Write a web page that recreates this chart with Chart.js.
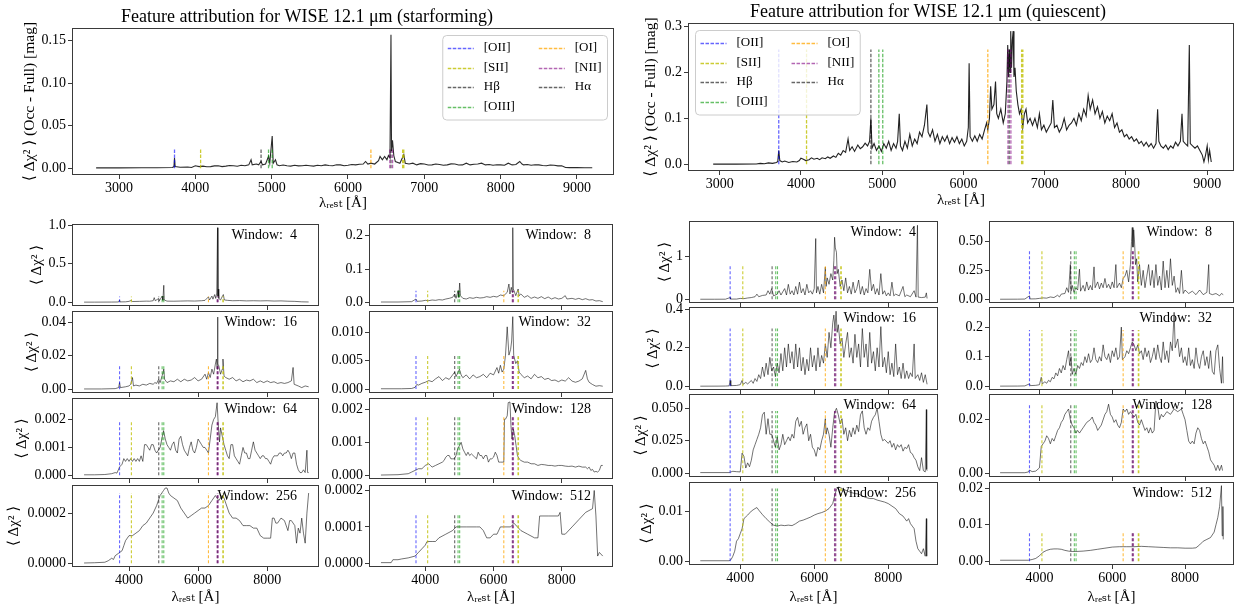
<!DOCTYPE html>
<html><head><meta charset="utf-8">
<script src="https://cdn.jsdelivr.net/npm/chart.js@4.4.1/dist/chart.umd.min.js"></script>
<style>
html,body{margin:0;padding:0;background:#fff;}
#fig{position:relative;width:1244px;height:607px;overflow:hidden;background:#fff;}
#fig canvas{position:absolute;}
</style></head><body><div id="fig"></div>
<script>
// ---------- emission lines ----------
const lineNames = ['[OII]', '[SII]', 'H\u03B2', '[OIII]', '[OI]', '[NII]', 'H\u03B1'];
const lineWaves = [[3727], [4069, 6716, 6731], [4861], [4959, 5007], [6300], [6548, 6584], [6563]];
// heights of the dashed markers, per panel (top, W4, W8, W16, W32, W64, W128, W256, W512)
const lineTopSF = [0.023, 0.074, 0.035, 0.014, 0.006, 0.0019, 0.0018, 0.00028, 0.000135];
const lineTopQ = [0.25, 0.81, 0.43, 0.30, 0.19, 0.048, 0.026, 0.0145, 0.0078];

// ---------- tick values / labels ----------
const xTicksTop = [3000, 4000, 5000, 6000, 7000, 8000, 9000];
const xTicksSmall = [4000, 6000, 8000];
const yTicksSF = [[0, 0.05, 0.10, 0.15], [0, 0.5, 1.0], [0, 0.1, 0.2], [0, 0.02, 0.04], [0, 0.005, 0.010], [0, 0.001, 0.002], [0, 0.001, 0.002], [0, 0.0002], [0, 0.0001, 0.0002]];
const yLabelsSF = [['0.00', '0.05', '0.10', '0.15'], ['0.0', '0.5', '1.0'], ['0.0', '0.1', '0.2'], ['0.00', '0.02', '0.04'], ['0.000', '0.005', '0.010'], ['0.000', '0.001', '0.002'], ['0.000', '0.001', '0.002'], ['0.0000', '0.0002'], ['0.0000', '0.0001', '0.0002']];
const yTicksQ = [[0, 0.1, 0.2, 0.3], [0, 1], [0, 0.25, 0.5], [0, 0.2, 0.4], [0, 0.1, 0.2], [0, 0.025, 0.05], [0, 0.02], [0, 0.01], [0, 0.01, 0.02]];
const yLabelsQ = [['0.0', '0.1', '0.2', '0.3'], ['0', '1'], ['0.00', '0.25', '0.50'], ['0.0', '0.2', '0.4'], ['0.0', '0.1', '0.2'], ['0.000', '0.025', '0.050'], ['0.00', '0.02'], ['0.00', '0.01'], ['0.00', '0.01', '0.02']];
const windows = [4, 8, 16, 32, 64, 128, 256, 512];

// ---------- spectra: [wavelength, <dchi2>] ----------
const sfTop = [[2700,0.0005],[3000,0.0005],[3300,0.0006],[3500,0.0007],[3700,0.001],[3720,0.002],[3727,0.012],[3735,0.002],[3800,0.0012],[3900,0.0015],[3950,0.001],[4000,0.003],[4050,0.002],[4100,0.0025],[4150,0.0018],[4200,0.002],[4250,0.0028],[4300,0.003],[4350,0.002],[4400,0.0025],[4450,0.0032],[4500,0.003],[4550,0.0024],[4600,0.0035],[4650,0.003],[4700,0.004],[4730,0.01],[4745,0.004],[4800,0.005],[4830,0.004],[4861,0.008],[4880,0.004],[4920,0.005],[4959,0.014],[4975,0.006],[5007,0.038],[5020,0.006],[5050,0.01],[5070,0.004],[5100,0.003],[5150,0.0038],[5200,0.003],[5250,0.0026],[5300,0.0035],[5350,0.0028],[5400,0.003],[5450,0.0036],[5500,0.003],[5550,0.0025],[5600,0.0035],[5650,0.003],[5700,0.004],[5750,0.0033],[5800,0.003],[5850,0.0042],[5900,0.004],[5950,0.003],[6000,0.0035],[6050,0.0045],[6100,0.004],[6150,0.0048],[6200,0.005],[6230,0.008],[6260,0.005],[6300,0.006],[6350,0.005],[6400,0.009],[6420,0.014],[6450,0.01],[6480,0.014],[6510,0.01],[6530,0.015],[6550,0.012],[6563,0.157],[6570,0.02],[6583,0.033],[6600,0.015],[6620,0.008],[6680,0.006],[6716,0.013],[6731,0.016],[6750,0.006],[6800,0.005],[6850,0.006],[6900,0.004],[6950,0.0055],[7000,0.005],[7050,0.0038],[7100,0.004],[7150,0.005],[7200,0.0045],[7250,0.0035],[7300,0.004],[7350,0.0052],[7400,0.005],[7450,0.0038],[7500,0.004],[7550,0.006],[7600,0.004],[7650,0.0048],[7700,0.005],[7750,0.006],[7800,0.004],[7850,0.0045],[7900,0.0035],[7950,0.0042],[8000,0.004],[8050,0.0035],[8100,0.006],[8150,0.004],[8200,0.0045],[8250,0.008],[8280,0.005],[8300,0.004],[8350,0.0045],[8400,0.0035],[8450,0.0042],[8500,0.004],[8550,0.0032],[8600,0.003],[8650,0.0038],[8700,0.0035],[8750,0.0028],[8800,0.003],[8850,0.001],[8900,0.0008],[9000,0.0008],[9100,0.0007],[9200,0.0006]];
const sfW4 = [[2700,0.002],[3000,0.002],[3500,0.003],[3700,0.004],[3727,0.03],[3740,0.005],[3900,0.006],[4000,0.012],[4070,0.025],[4100,0.01],[4300,0.012],[4500,0.015],[4600,0.014],[4700,0.02],[4730,0.06],[4760,0.02],[4861,0.05],[4880,0.02],[4959,0.08],[4980,0.025],[5007,0.22],[5020,0.03],[5100,0.015],[5300,0.014],[5500,0.016],[5700,0.018],[5900,0.016],[6100,0.02],[6200,0.025],[6300,0.07],[6330,0.03],[6400,0.08],[6430,0.04],[6480,0.1],[6510,0.05],[6540,0.12],[6563,0.965],[6575,0.08],[6583,0.17],[6600,0.05],[6650,0.03],[6716,0.09],[6731,0.1],[6760,0.03],[6850,0.025],[7000,0.02],[7200,0.022],[7400,0.018],[7600,0.02],[7800,0.018],[8000,0.02],[8200,0.016],[8400,0.018],[8600,0.014],[8800,0.012],[9000,0.006],[9200,0.004]];
const sfW8 = [[2700,0.001],[3200,0.001],[3600,0.002],[3727,0.01],[3760,0.003],[3900,0.004],[4000,0.006],[4100,0.005],[4200,0.007],[4300,0.006],[4400,0.008],[4500,0.007],[4600,0.01],[4700,0.012],[4800,0.015],[4861,0.025],[4900,0.012],[4959,0.035],[4980,0.015],[5007,0.058],[5030,0.02],[5100,0.012],[5200,0.01],[5300,0.014],[5400,0.012],[5500,0.015],[5600,0.013],[5700,0.014],[5800,0.017],[5900,0.015],[6000,0.018],[6100,0.016],[6200,0.022],[6300,0.02],[6400,0.03],[6450,0.055],[6480,0.025],[6520,0.045],[6545,0.03],[6563,0.224],[6575,0.04],[6600,0.035],[6650,0.02],[6720,0.04],[6750,0.02],[6800,0.025],[6900,0.015],[7000,0.02],[7100,0.012],[7200,0.016],[7300,0.012],[7400,0.017],[7500,0.011],[7600,0.016],[7700,0.01],[7800,0.014],[7900,0.01],[8000,0.012],[8100,0.02],[8150,0.01],[8300,0.012],[8400,0.009],[8500,0.012],[8600,0.008],[8700,0.011],[8800,0.007],[8900,0.008],[9000,0.004],[9100,0.005],[9200,0.002]];
const sfW16 = [[2700,0.0002],[3200,0.0002],[3600,0.0004],[3700,0.001],[3727,0.004],[3750,0.001],[3900,0.0015],[4000,0.002],[4050,0.003],[4100,0.007],[4130,0.002],[4200,0.0025],[4300,0.002],[4400,0.003],[4500,0.0025],[4600,0.0035],[4700,0.003],[4750,0.004],[4800,0.0035],[4861,0.006],[4900,0.004],[4959,0.008],[5007,0.012],[5030,0.006],[5100,0.004],[5200,0.005],[5300,0.0045],[5400,0.006],[5500,0.0045],[5600,0.006],[5700,0.005],[5800,0.0055],[5900,0.007],[6000,0.005],[6100,0.006],[6200,0.009],[6250,0.006],[6300,0.01],[6350,0.007],[6400,0.012],[6450,0.009],[6500,0.015],[6530,0.018],[6550,0.012],[6563,0.043],[6575,0.015],[6600,0.014],[6650,0.009],[6700,0.012],[6720,0.018],[6750,0.008],[6800,0.007],[6900,0.006],[7000,0.007],[7100,0.005],[7200,0.006],[7300,0.0045],[7400,0.0055],[7500,0.005],[7600,0.006],[7700,0.004],[7800,0.005],[7900,0.004],[8000,0.005],[8100,0.004],[8200,0.0045],[8300,0.0035],[8400,0.004],[8500,0.0035],[8600,0.004],[8700,0.005],[8750,0.013],[8780,0.003],[8900,0.002],[9000,0.001],[9100,0.002],[9200,0.0015]];
const sfW32 = [[2700,0.00005],[3300,0.00005],[3600,0.0001],[3700,0.0003],[3750,0.0008],[3800,0.0007],[3900,0.001],[4000,0.0012],[4100,0.0015],[4200,0.0013],[4300,0.0018],[4400,0.0022],[4500,0.0015],[4600,0.002],[4700,0.0017],[4800,0.0025],[4861,0.003],[4900,0.0022],[5000,0.0035],[5050,0.0025],[5100,0.002],[5200,0.0025],[5300,0.0018],[5400,0.0025],[5500,0.002],[5600,0.0022],[5700,0.0026],[5800,0.002],[5900,0.0028],[6000,0.0025],[6100,0.0038],[6150,0.0028],[6200,0.0042],[6250,0.003],[6300,0.0035],[6350,0.006],[6400,0.011],[6450,0.006],[6500,0.007],[6530,0.0085],[6563,0.0128],[6590,0.006],[6650,0.0045],[6700,0.005],[6750,0.003],[6800,0.0026],[6900,0.002],[7000,0.0023],[7100,0.0018],[7200,0.0026],[7300,0.002],[7400,0.0022],[7500,0.0017],[7600,0.0019],[7700,0.0015],[7800,0.0016],[7900,0.0013],[8000,0.0016],[8100,0.0014],[8200,0.002],[8300,0.0014],[8400,0.0012],[8500,0.0014],[8600,0.0018],[8700,0.0033],[8750,0.0018],[8800,0.0012],[8900,0.0008],[9000,0.0005],[9100,0.0006],[9200,0.0005]];
const sfW64 = [[2700,0.00002],[3000,0.00002],[3300,0.00003],[3500,0.00006],[3600,0.0001],[3650,0.00008],[3727,0.0003],[3800,0.0004],[3850,0.0006],[3900,0.0005],[3950,0.0006],[4000,0.0005],[4050,0.0006],[4100,0.0005],[4150,0.0006],[4200,0.0005],[4250,0.0006],[4300,0.0005],[4350,0.0007],[4400,0.0005],[4450,0.0011],[4500,0.0011],[4550,0.001],[4600,0.0009],[4650,0.0011],[4700,0.0011],[4750,0.0009],[4800,0.0008],[4850,0.0009],[4900,0.001],[4950,0.0013],[5000,0.0016],[5050,0.0013],[5100,0.0011],[5150,0.001],[5200,0.0009],[5250,0.0011],[5300,0.0012],[5350,0.0009],[5400,0.0008],[5450,0.0013],[5500,0.0014],[5550,0.0011],[5600,0.0009],[5650,0.0008],[5700,0.0007],[5750,0.001],[5800,0.0012],[5850,0.0009],[5900,0.0008],[5950,0.001],[6000,0.0013],[6050,0.0012],[6100,0.0011],[6150,0.001],[6200,0.001],[6250,0.0009],[6300,0.0008],[6350,0.0013],[6400,0.0018],[6450,0.002],[6500,0.0021],[6550,0.0026],[6580,0.0019],[6620,0.0012],[6650,0.0017],[6700,0.0014],[6750,0.0011],[6800,0.0009],[6850,0.0007],[6900,0.0006],[6950,0.0011],[7000,0.0011],[7050,0.0007],[7100,0.0006],[7150,0.0005],[7200,0.0004],[7250,0.0007],[7300,0.001],[7350,0.0008],[7400,0.0008],[7450,0.0006],[7500,0.0006],[7550,0.0009],[7600,0.0012],[7650,0.0009],[7700,0.0008],[7750,0.0007],[7800,0.0006],[7850,0.0007],[7900,0.0007],[7950,0.0006],[8000,0.0006],[8050,0.0005],[8100,0.0004],[8150,0.0006],[8200,0.0007],[8250,0.0007],[8300,0.0007],[8350,0.0008],[8400,0.0008],[8450,0.0007],[8500,0.0008],[8550,0.0008],[8600,0.0009],[8650,0.0008],[8700,0.0006],[8750,0.0008],[8800,0.0008],[8850,0.0004],[8900,0.0002],[8950,0.0001],[9000,0.0001],[9050,0.0002],[9100,0.0001],[9150,0.0009],[9170,0.0001],[9200,0.0001]];
const sfW128 = [[2700,0.00001],[3200,0.00002],[3500,0.00005],[3600,0.0001],[3700,0.00015],[3800,0.0002],[3900,0.0002],[3950,0.00025],[4000,0.0003],[4100,0.00035],[4150,0.0003],[4200,0.00025],[4300,0.0003],[4400,0.00035],[4500,0.0004],[4550,0.00045],[4600,0.00055],[4650,0.0006],[4700,0.0006],[4750,0.0005],[4800,0.0005],[4850,0.0005],[4900,0.0006],[4950,0.0008],[5000,0.0009],[5050,0.001],[5100,0.0008],[5150,0.0007],[5200,0.0006],[5250,0.0007],[5300,0.0006],[5350,0.00065],[5400,0.0006],[5450,0.00055],[5500,0.0005],[5550,0.0007],[5600,0.0006],[5650,0.0006],[5700,0.0005],[5750,0.0006],[5800,0.0006],[5850,0.0004],[5900,0.0005],[5950,0.0005],[6000,0.00055],[6050,0.0007],[6100,0.0006],[6150,0.0004],[6200,0.0004],[6250,0.0004],[6300,0.0004],[6320,0.0017],[6350,0.0017],[6400,0.0018],[6430,0.0022],[6480,0.00222],[6510,0.0015],[6540,0.0011],[6580,0.0014],[6620,0.0012],[6660,0.0009],[6700,0.0006],[6750,0.0005],[6800,0.00045],[6900,0.0004],[7000,0.0004],[7100,0.00035],[7200,0.00035],[7300,0.0003],[7400,0.00033],[7500,0.00032],[7600,0.0003],[7700,0.0003],[7800,0.00028],[7900,0.0003],[8000,0.0003],[8100,0.00028],[8200,0.00027],[8300,0.00028],[8400,0.00025],[8500,0.00028],[8600,0.00025],[8700,0.00025],[8750,0.0002],[8800,0.00025],[8850,0.00015],[8900,0.00018],[8950,0.0001],[9000,0.00012],[9050,0.0001],[9100,0.00015],[9150,0.0003],[9200,0.0003]];
const sfW256 = [[2700,0.000001],[3000,0.000002],[3300,0.000004],[3400,0.00001],[3500,0.00002],[3550,0.000015],[3600,0.00003],[3700,0.00004],[3800,0.00005],[3850,0.00007],[3900,0.00009],[4000,0.00011],[4100,0.00011],[4200,0.00012],[4300,0.00013],[4400,0.00015],[4500,0.00016],[4600,0.00018],[4700,0.0002],[4800,0.00023],[4900,0.00027],[5000,0.00029],[5050,0.0003],[5100,0.0003],[5150,0.00028],[5200,0.00027],[5300,0.00026],[5400,0.00025],[5500,0.00022],[5600,0.0002],[5700,0.00018],[5800,0.00019],[5900,0.0002],[6000,0.00021],[6100,0.00022],[6200,0.00022],[6300,0.00023],[6400,0.00025],[6500,0.00027],[6550,0.00026],[6600,0.00025],[6700,0.00027],[6750,0.00026],[6800,0.00024],[6900,0.0002],[7000,0.00018],[7100,0.00018],[7200,0.00017],[7300,0.00015],[7400,0.00015],[7500,0.00015],[7600,0.00014],[7700,0.00014],[7800,0.00011],[7900,0.0001],[8000,0.0001],[8100,0.0001],[8150,0.00018],[8200,0.00018],[8250,0.00016],[8300,0.00016],[8400,0.00018],[8500,0.00017],[8600,0.00013],[8650,0.00017],[8700,0.00017],[8800,0.00015],[8850,0.00008],[8900,0.00014],[8950,0.00012],[9000,0.00018],[9050,0.00012],[9100,0.00008],[9150,0.0002],[9200,0.00028]];
const sfW512 = [[2700,0.000002],[3000,0.000002],[3050,0.00001],[3200,0.00001],[3300,0.000012],[3500,0.000015],[3700,0.00002],[3800,0.00003],[3900,0.00004],[4000,0.00005],[4050,0.00006],[4200,0.00006],[4300,0.00006],[4400,0.00007],[4600,0.00008],[4800,0.00009],[4900,0.0001],[5000,0.0001],[5200,0.0001],[5500,0.0001],[5600,0.0001],[5700,0.00009],[5800,0.00007],[5900,0.00007],[6000,0.00008],[6100,0.00008],[6200,0.0001],[6500,0.0001],[6600,0.00011],[6700,0.0001],[6800,0.00009],[7000,0.00008],[7200,0.00007],[7300,0.00007],[7350,0.00013],[7600,0.00013],[7900,0.00013],[7950,0.00014],[8000,0.00008],[8100,0.00008],[8300,0.0001],[8500,0.00012],[8700,0.00014],[8900,0.00015],[8950,0.0002],[9000,0.00013],[9050,0.00002],[9100,0.00003],[9200,0.00002]];

const qTop = [[2920,0.0003],[3200,0.0003],[3450,0.0005],[3500,0.002],[3550,0.001],[3600,0.003],[3650,0.002],[3700,0.004],[3715,0.006],[3727,0.03],[3740,0.008],[3770,0.005],[3800,0.007],[3850,0.004],[3900,0.006],[3950,0.005],[3980,0.008],[4000,0.013],[4030,0.011],[4060,0.008],[4100,0.01],[4130,0.014],[4160,0.011],[4200,0.013],[4230,0.01],[4260,0.014],[4300,0.012],[4330,0.016],[4360,0.013],[4400,0.018],[4430,0.015],[4460,0.024],[4490,0.02],[4520,0.03],[4550,0.026],[4580,0.055],[4600,0.03],[4630,0.038],[4660,0.028],[4700,0.042],[4730,0.034],[4760,0.038],[4790,0.046],[4820,0.04],[4845,0.05],[4861,0.1],[4875,0.035],[4900,0.045],[4930,0.03],[4960,0.04],[4990,0.028],[5020,0.045],[5050,0.035],[5080,0.05],[5110,0.03],[5140,0.045],[5170,0.035],[5190,0.05],[5210,0.11],[5225,0.04],[5250,0.03],[5280,0.05],[5310,0.035],[5340,0.065],[5370,0.04],[5400,0.055],[5430,0.045],[5460,0.07],[5490,0.06],[5520,0.085],[5550,0.13],[5565,0.07],[5590,0.06],[5620,0.075],[5650,0.05],[5680,0.065],[5710,0.045],[5740,0.06],[5770,0.05],[5800,0.062],[5830,0.045],[5860,0.058],[5890,0.048],[5920,0.06],[5950,0.045],[5980,0.055],[6010,0.04],[6040,0.05],[6060,0.08],[6070,0.22],[6082,0.06],[6110,0.05],[6140,0.062],[6170,0.05],[6200,0.065],[6230,0.055],[6260,0.075],[6285,0.09],[6300,0.075],[6320,0.1],[6335,0.17],[6350,0.12],[6375,0.13],[6395,0.18],[6410,0.11],[6430,0.1],[6460,0.12],[6490,0.09],[6515,0.11],[6535,0.18],[6545,0.26],[6555,0.19],[6565,0.25],[6575,0.2],[6582,0.29],[6592,0.21],[6602,0.27],[6612,0.29],[6622,0.19],[6635,0.21],[6650,0.16],[6670,0.13],[6690,0.11],[6710,0.12],[6730,0.08],[6750,0.11],[6770,0.12],[6790,0.09],[6820,0.1],[6850,0.085],[6880,0.1],[6910,0.08],[6935,0.11],[6960,0.075],[6990,0.085],[7020,0.07],[7050,0.08],[7080,0.09],[7100,0.14],[7120,0.08],[7150,0.085],[7180,0.07],[7210,0.08],[7240,0.1],[7270,0.075],[7300,0.085],[7330,0.09],[7360,0.1],[7390,0.085],[7420,0.11],[7450,0.095],[7480,0.12],[7510,0.105],[7535,0.15],[7560,0.12],[7590,0.14],[7620,0.11],[7650,0.125],[7680,0.1],[7710,0.115],[7740,0.09],[7770,0.105],[7800,0.095],[7830,0.11],[7860,0.08],[7890,0.09],[7920,0.07],[7950,0.075],[7980,0.06],[8010,0.065],[8040,0.055],[8070,0.06],[8100,0.05],[8130,0.055],[8160,0.045],[8190,0.05],[8220,0.04],[8250,0.048],[8280,0.038],[8310,0.045],[8340,0.035],[8370,0.045],[8390,0.12],[8405,0.05],[8430,0.04],[8460,0.035],[8490,0.042],[8520,0.032],[8550,0.04],[8580,0.035],[8610,0.048],[8640,0.04],[8670,0.05],[8690,0.11],[8705,0.05],[8730,0.045],[8760,0.04],[8780,0.26],[8792,0.045],[8820,0.04],[8850,0.035],[8880,0.04],[8910,0.03],[8940,0.02],[8960,0.005],[8980,0.02],[9000,0.04],[9015,0.01],[9030,0.03],[9050,0.005]];
const qW4 = [[2920,0.001],[3300,0.001],[3600,0.002],[3727,0.04],[3740,0.005],[3900,0.005],[4000,0.02],[4100,0.015],[4200,0.03],[4300,0.04],[4400,0.06],[4450,0.12],[4500,0.06],[4600,0.09],[4700,0.1],[4750,0.2],[4800,0.12],[4850,0.25],[4900,0.08],[5000,0.12],[5050,0.2],[5100,0.1],[5200,0.25],[5250,0.1],[5300,0.35],[5350,0.12],[5400,0.2],[5450,0.1],[5500,0.3],[5550,0.12],[5600,0.4],[5650,0.15],[5700,0.25],[5750,0.1],[5800,0.35],[5850,0.15],[5900,0.2],[5950,0.12],[6000,0.25],[6040,1.42],[6060,0.15],[6100,0.3],[6150,0.12],[6200,0.35],[6250,0.15],[6300,0.75],[6320,0.3],[6350,0.5],[6400,0.35],[6450,0.6],[6500,0.45],[6530,0.9],[6550,1.45],[6570,1.2],[6600,1.1],[6620,0.6],[6650,0.7],[6700,0.3],[6750,0.45],[6800,0.2],[6850,0.5],[6900,0.15],[6950,0.3],[7000,0.12],[7050,0.4],[7100,0.15],[7150,0.25],[7200,0.45],[7250,0.12],[7300,0.3],[7350,0.1],[7400,0.25],[7450,0.15],[7500,0.7],[7550,0.2],[7600,0.35],[7650,0.12],[7700,0.25],[7750,0.1],[7800,0.6],[7850,0.12],[7900,0.2],[7950,0.08],[8000,0.15],[8050,0.08],[8100,0.4],[8150,0.08],[8200,0.12],[8300,0.08],[8400,0.3],[8450,0.06],[8500,0.1],[8600,0.06],[8700,0.2],[8750,0.05],[8790,1.73],[8810,0.05],[8900,0.04],[9000,0.05],[9030,0.15],[9050,0.02]];
const qW8 = [[2920,0.0005],[3400,0.001],[3600,0.002],[3727,0.03],[3745,0.003],[3900,0.004],[4000,0.008],[4100,0.012],[4200,0.01],[4300,0.02],[4400,0.015],[4500,0.035],[4550,0.02],[4600,0.045],[4700,0.05],[4750,0.1],[4800,0.06],[4850,0.3],[4870,0.07],[4900,0.12],[4950,0.06],[5000,0.1],[5050,0.08],[5100,0.26],[5130,0.07],[5200,0.12],[5250,0.07],[5300,0.15],[5350,0.08],[5400,0.12],[5450,0.08],[5500,0.28],[5530,0.1],[5600,0.15],[5650,0.09],[5700,0.14],[5750,0.1],[5800,0.18],[5850,0.1],[5900,0.13],[5950,0.09],[6000,0.15],[6050,0.1],[6100,0.3],[6130,0.1],[6200,0.14],[6250,0.1],[6300,0.18],[6350,0.2],[6400,0.25],[6450,0.15],[6500,0.3],[6530,0.5],[6550,0.62],[6570,0.45],[6590,0.6],[6610,0.52],[6640,0.3],[6670,0.35],[6700,0.15],[6750,0.3],[6800,0.12],[6850,0.25],[6900,0.1],[6950,0.2],[7000,0.3],[7050,0.12],[7100,0.25],[7150,0.1],[7200,0.3],[7250,0.12],[7300,0.2],[7350,0.08],[7400,0.33],[7450,0.1],[7500,0.25],[7550,0.1],[7600,0.35],[7650,0.12],[7700,0.2],[7750,0.06],[7800,0.1],[7850,0.05],[7900,0.25],[7950,0.05],[8000,0.08],[8100,0.05],[8200,0.07],[8300,0.04],[8400,0.08],[8500,0.04],[8600,0.06],[8650,0.3],[8670,0.05],[8750,0.04],[8850,0.05],[8950,0.03],[9000,0.05],[9050,0.04]];
const qW16 = [[2920,0.0003],[3400,0.0005],[3600,0.001],[3700,0.002],[3727,0.03],[3745,0.003],[3900,0.004],[4000,0.008],[4050,0.03],[4080,0.01],[4150,0.02],[4200,0.012],[4300,0.03],[4350,0.015],[4400,0.04],[4450,0.025],[4500,0.06],[4550,0.04],[4600,0.1],[4650,0.05],[4700,0.12],[4750,0.06],[4800,0.15],[4850,0.08],[4900,0.1],[4950,0.05],[5000,0.12],[5050,0.07],[5100,0.17],[5150,0.08],[5200,0.2],[5250,0.1],[5300,0.22],[5350,0.12],[5400,0.18],[5450,0.09],[5500,0.22],[5550,0.1],[5600,0.2],[5650,0.08],[5700,0.15],[5750,0.06],[5800,0.14],[5850,0.08],[5900,0.2],[5950,0.1],[6000,0.16],[6050,0.08],[6100,0.2],[6150,0.1],[6200,0.16],[6250,0.12],[6300,0.22],[6350,0.15],[6400,0.28],[6450,0.2],[6500,0.33],[6530,0.37],[6560,0.3],[6590,0.39],[6620,0.28],[6650,0.32],[6700,0.22],[6750,0.25],[6800,0.15],[6850,0.22],[6900,0.28],[6950,0.15],[7000,0.2],[7050,0.12],[7100,0.27],[7150,0.15],[7200,0.22],[7250,0.1],[7300,0.3],[7350,0.15],[7400,0.22],[7450,0.1],[7500,0.28],[7550,0.12],[7600,0.18],[7650,0.08],[7700,0.2],[7750,0.1],[7800,0.31],[7850,0.1],[7900,0.15],[7950,0.07],[8000,0.18],[8050,0.06],[8100,0.12],[8150,0.05],[8200,0.22],[8250,0.06],[8300,0.1],[8350,0.04],[8400,0.12],[8450,0.04],[8500,0.08],[8550,0.04],[8600,0.07],[8650,0.05],[8700,0.22],[8730,0.04],[8800,0.06],[8850,0.03],[8900,0.07],[8950,0.02],[9000,0.06],[9050,0.01]];
const qW32 = [[2920,0.0003],[3400,0.0005],[3600,0.001],[3727,0.008],[3750,0.002],[3900,0.003],[4000,0.005],[4050,0.03],[4080,0.008],[4150,0.015],[4200,0.01],[4250,0.02],[4300,0.015],[4350,0.03],[4400,0.025],[4450,0.045],[4500,0.035],[4550,0.06],[4600,0.045],[4650,0.07],[4700,0.055],[4750,0.09],[4800,0.12],[4830,0.07],[4870,0.1],[4900,0.04],[4950,0.06],[5000,0.04],[5050,0.07],[5100,0.06],[5150,0.08],[5200,0.07],[5250,0.1],[5300,0.08],[5350,0.11],[5400,0.08],[5450,0.09],[5500,0.13],[5550,0.09],[5600,0.08],[5650,0.1],[5700,0.085],[5750,0.14],[5800,0.1],[5850,0.09],[5900,0.11],[5950,0.08],[6000,0.12],[6050,0.1],[6100,0.13],[6150,0.09],[6200,0.1],[6250,0.2],[6280,0.09],[6350,0.1],[6400,0.12],[6450,0.11],[6500,0.13],[6550,0.15],[6600,0.14],[6650,0.12],[6700,0.14],[6750,0.11],[6800,0.12],[6850,0.09],[6900,0.13],[6950,0.1],[7000,0.12],[7050,0.08],[7100,0.1],[7150,0.13],[7200,0.09],[7250,0.14],[7300,0.1],[7350,0.08],[7400,0.15],[7450,0.09],[7500,0.12],[7550,0.08],[7600,0.15],[7650,0.12],[7700,0.25],[7730,0.13],[7800,0.16],[7850,0.1],[7900,0.13],[7950,0.08],[8000,0.1],[8050,0.07],[8100,0.13],[8150,0.07],[8200,0.09],[8250,0.06],[8300,0.13],[8350,0.08],[8400,0.06],[8450,0.1],[8500,0.12],[8550,0.07],[8600,0.1],[8650,0.06],[8700,0.12],[8750,0.05],[8800,0.04],[8850,0.12],[8900,0.14],[8950,0.06],[9000,0.01],[9030,0.1],[9050,0.01]];
const qW64 = [[2920,0.0005],[3700,0.0005],[3750,0.001],[3800,0.0015],[3900,0.0012],[4000,0.001],[4050,0.0155],[4100,0.013],[4150,0.004],[4200,0.008],[4250,0.005],[4300,0.01],[4350,0.018],[4400,0.022],[4450,0.026],[4500,0.03],[4550,0.035],[4600,0.045],[4650,0.047],[4700,0.03],[4750,0.042],[4800,0.03],[4850,0.03],[4900,0.025],[4950,0.02],[5000,0.028],[5050,0.018],[5100,0.022],[5150,0.03],[5200,0.022],[5250,0.025],[5300,0.028],[5350,0.025],[5400,0.03],[5450,0.027],[5500,0.04],[5550,0.043],[5600,0.036],[5650,0.04],[5700,0.03],[5750,0.035],[5800,0.038],[5850,0.025],[5900,0.03],[5950,0.02],[6000,0.018],[6050,0.013],[6100,0.02],[6150,0.018],[6200,0.025],[6250,0.03],[6300,0.042],[6320,0.03],[6350,0.035],[6400,0.03],[6450,0.02],[6500,0.035],[6550,0.047],[6600,0.05],[6650,0.045],[6700,0.038],[6750,0.042],[6800,0.03],[6850,0.035],[6900,0.025],[6950,0.033],[7000,0.028],[7050,0.035],[7100,0.03],[7150,0.037],[7200,0.032],[7250,0.045],[7300,0.048],[7350,0.035],[7400,0.03],[7450,0.035],[7500,0.033],[7550,0.04],[7600,0.043],[7650,0.045],[7700,0.05],[7750,0.04],[7800,0.03],[7850,0.025],[7900,0.026],[8000,0.023],[8050,0.025],[8100,0.02],[8150,0.023],[8200,0.018],[8250,0.022],[8300,0.02],[8350,0.022],[8400,0.017],[8450,0.02],[8500,0.019],[8550,0.022],[8600,0.016],[8650,0.015],[8700,0.012],[8750,0.01],[8800,0.005],[8850,0.002],[8900,0.012],[8950,0.002],[9000,0.001],[9030,0.049],[9040,0.003],[9050,0.002]];
const qW128 = [[2920,0.0002],[3600,0.0002],[3700,0.0005],[3727,0.0012],[3800,0.0006],[3900,0.0008],[4000,0.002],[4050,0.01],[4100,0.011],[4150,0.012],[4200,0.014],[4250,0.013],[4300,0.011],[4350,0.013],[4400,0.012],[4450,0.014],[4500,0.016],[4550,0.017],[4600,0.019],[4650,0.02],[4700,0.022],[4750,0.023],[4800,0.024],[4850,0.02],[4900,0.018],[4950,0.017],[5000,0.015],[5050,0.016],[5100,0.015],[5200,0.017],[5300,0.019],[5400,0.02],[5450,0.021],[5500,0.019],[5550,0.018],[5600,0.016],[5700,0.018],[5800,0.022],[5850,0.023],[5900,0.0258],[5950,0.022],[6000,0.021],[6050,0.019],[6100,0.02],[6150,0.018],[6200,0.017],[6250,0.019],[6300,0.024],[6350,0.023],[6400,0.024],[6450,0.022],[6500,0.023],[6550,0.022],[6600,0.021],[6650,0.022],[6700,0.019],[6750,0.018],[6800,0.02],[6850,0.018],[6900,0.016],[6950,0.017],[7000,0.015],[7050,0.017],[7100,0.015],[7150,0.016],[7200,0.027],[7250,0.025],[7300,0.02],[7350,0.022],[7400,0.021],[7500,0.023],[7600,0.022],[7700,0.024],[7800,0.023],[7900,0.024],[7950,0.022],[8000,0.02],[8050,0.016],[8100,0.012],[8150,0.011],[8200,0.012],[8250,0.011],[8300,0.015],[8350,0.017],[8400,0.016],[8450,0.013],[8500,0.011],[8550,0.012],[8600,0.01],[8650,0.008],[8700,0.005],[8750,0.004],[8800,0.003],[8850,0.001],[8900,0.003],[8950,0.001],[9000,0.003],[9030,0.001]];
const qW256 = [[2920,0.0001],[3700,0.0001],[3750,0.0003],[3800,0.001],[3850,0.002],[3900,0.004],[3950,0.0045],[4000,0.0055],[4050,0.0065],[4100,0.0085],[4200,0.0092],[4300,0.01],[4400,0.0105],[4450,0.0107],[4500,0.0102],[4600,0.0093],[4700,0.0085],[4800,0.0078],[4900,0.0072],[5000,0.007],[5100,0.0072],[5200,0.0071],[5300,0.0072],[5400,0.0071],[5500,0.0075],[5600,0.008],[5700,0.0082],[5800,0.0085],[5900,0.0088],[6000,0.0092],[6100,0.0095],[6200,0.0097],[6300,0.01],[6400,0.0105],[6500,0.0115],[6550,0.013],[6600,0.0143],[6650,0.0148],[6700,0.0147],[6800,0.0143],[6900,0.014],[7000,0.0137],[7100,0.0135],[7200,0.0134],[7300,0.013],[7400,0.0127],[7500,0.0125],[7600,0.0125],[7700,0.0122],[7800,0.012],[7900,0.0118],[8000,0.0115],[8100,0.011],[8200,0.0105],[8300,0.0095],[8400,0.009],[8450,0.0085],[8500,0.008],[8550,0.0085],[8600,0.0075],[8650,0.007],[8700,0.0065],[8750,0.004],[8800,0.0025],[8850,0.002],[8900,0.0015],[8950,0.0025],[9000,0.001],[9030,0.0085],[9040,0.001]];
const qW512 = [[2920,0.0003],[3700,0.0003],[3800,0.0005],[3900,0.0008],[4000,0.0015],[4100,0.0025],[4200,0.003],[4300,0.0033],[4400,0.0034],[4500,0.0034],[4600,0.0033],[4700,0.003],[4800,0.0028],[4900,0.0027],[5000,0.0027],[5200,0.0028],[5400,0.003],[5600,0.0033],[5800,0.0036],[6000,0.0039],[6200,0.004],[6400,0.004],[6600,0.004],[6800,0.0041],[7000,0.004],[7200,0.0039],[7400,0.0038],[7600,0.0037],[7800,0.0037],[8000,0.0036],[8200,0.0036],[8300,0.0037],[8400,0.0045],[8500,0.0055],[8600,0.006],[8700,0.0065],[8800,0.008],[8850,0.01],[8900,0.012],[8950,0.015],[9000,0.0207],[9020,0.007],[9040,0.015],[9050,0.006]];

const sfSeries = [sfTop, sfW4, sfW8, sfW16, sfW32, sfW64, sfW128, sfW256, sfW512];
const qSeries = [qTop, qW4, qW8, qW16, qW32, qW64, qW128, qW256, qW512];

// ---------- styling ----------
const FONT = "'Liberation Serif', 'DejaVu Serif', serif";
const lineColors = ['rgba(0,0,255,0.6)', 'rgba(191,191,0,0.8)', 'rgba(0,0,0,0.6)', 'rgba(0,150,0,0.6)', 'rgba(255,165,0,0.75)', 'rgba(128,0,128,0.6)', 'rgba(0,0,0,0.6)'];
const SPINE = '#3a3a3a';
const XLABEL = '\u03BB\u1D63\u2091\u209B\u209C [\u00C5]';
const YLABEL_TOP = '\u27E8 \u0394\u03C7\u00B2 \u27E9 (Occ - Full) [mag]';
const YLABEL = '\u27E8 \u0394\u03C7\u00B2 \u27E9';

Chart.defaults.color = '#000';
Chart.defaults.font.family = FONT;

const framePlugin = {
  id: 'frame',
  afterDatasetsDraw(chart) {
    const a = chart.chartArea, c = chart.ctx;
    c.save();
    c.strokeStyle = SPINE; c.lineWidth = 1;
    c.strokeRect(Math.round(a.left) + 0.5, Math.round(a.top) + 0.5, Math.round(a.right - a.left) - 1, Math.round(a.bottom - a.top) - 1);
    c.restore();
  }
};
const cornerPlugin = {
  id: 'cornerText',
  afterDatasetsDraw(chart, args, opts) {
    if (!opts || !opts.text) return;
    const a = chart.chartArea, c = chart.ctx;
    c.save();
    c.font = '14px ' + FONT; c.fillStyle = '#000';
    c.textAlign = 'right'; c.textBaseline = 'middle';
    c.fillText(opts.text, a.right - opts.dx, a.top + opts.dy);
    c.restore();
  }
};
const legendPlugin = {
  id: 'mplLegend',
  afterDatasetsDraw(chart, args, opts) {
    if (!opts || !opts.show) return;
    const a = chart.chartArea, c = chart.ctx;
    const items = chart.data.datasets.filter(d => d.isEmission);
    const fs = 13, pad = 5.5, hl = 26, htp = 10, cs = 24, rowGap = 6.5;
    c.save();
    c.font = fs + 'px ' + FONT;
    const nrow = Math.ceil(items.length / 2);
    const cols = [items.slice(0, nrow), items.slice(nrow)];
    const tw = cols.map(col => Math.max(...col.map(d => c.measureText(d.label).width)));
    const w = 2 * pad + 2 * (hl + htp) + tw[0] + tw[1] + cs;
    const h = 2 * pad + nrow * fs + (nrow - 1) * rowGap + 2;
    const x0 = opts.anchor === 'right' ? a.right - opts.inset - w : a.left + opts.inset;
    const y0 = a.top + opts.inset;
    c.beginPath();
    if (c.roundRect) c.roundRect(x0 + 0.5, y0 + 0.5, w, h, 4); else c.rect(x0 + 0.5, y0 + 0.5, w, h);
    c.fillStyle = 'rgba(255,255,255,0.8)'; c.fill();
    c.strokeStyle = '#cccccc'; c.lineWidth = 1; c.stroke();
    c.textAlign = 'left'; c.textBaseline = 'middle'; c.fillStyle = '#000';
    cols.forEach((col, ci) => {
      const cx = x0 + pad + (ci === 0 ? 0 : hl + htp + tw[0] + cs);
      col.forEach((d, ri) => {
        const cy = y0 + pad + 1 + ri * (fs + rowGap) + fs / 2;
        c.save();
        c.strokeStyle = d.borderColor; c.lineWidth = 1.5; c.setLineDash([3.5, 1.5]);
        c.beginPath(); c.moveTo(cx, Math.round(cy) + 0.5); c.lineTo(cx + hl, Math.round(cy) + 0.5); c.stroke();
        c.restore();
        c.fillText(d.label, cx + hl + htp, cy);
      });
    });
    c.restore();
  }
};

function emissionDatasets(top, width, dash) {
  return lineNames.map((name, i) => {
    const pts = [];
    lineWaves[i].forEach(w => { pts.push([w, 0], [w, top], [w, null]); });
    return { label: name, data: pts, borderColor: lineColors[i], borderWidth: width, borderDash: dash,
      pointRadius: 0, spanGaps: false, fill: false, tension: 0, isEmission: true };
  });
}

const fig = document.getElementById('fig');
function makePanel(p) {
  const cv = document.createElement('canvas');
  const W = (p.box[2] - p.box[0]) + p.L + p.R;
  const H = (p.box[3] - p.box[1]) + p.T + p.B;
  cv.width = W; cv.height = H;
  cv.style.width = W + 'px'; cv.style.height = H + 'px';
  cv.style.left = (p.box[0] - p.L) + 'px'; cv.style.top = (p.box[1] - p.T) + 'px';
  fig.appendChild(cv);
  const datasets = emissionDatasets(p.lineTop, p.vlw, p.dash).concat([{
    label: 'spectrum', data: p.spec, borderColor: p.specColor, borderWidth: p.specWidth,
    pointRadius: 0, tension: 0, fill: false }]);
  const titleLH = 18 * 1.2;
  new Chart(cv, {
    type: 'line',
    data: { datasets },
    options: {
      responsive: false, animation: false, devicePixelRatio: 1, events: [],
      layout: { padding: { top: p.title ? 0 : p.T, right: p.R, bottom: 0, left: 0 } },
      plugins: {
        legend: { display: false }, tooltip: { enabled: false },
        title: p.title ? { display: true, text: p.title, font: { family: FONT, size: 18, weight: 'normal' }, color: '#000',
          padding: { top: p.titlePad, bottom: p.T - titleLH - p.titlePad } } : { display: false },
        cornerText: { text: p.window ? 'Window:  ' + p.window : '', dx: 22, dy: 11 },
        mplLegend: { show: !!p.legend, anchor: p.legend, inset: 7 }
      },
      scales: {
        x: {
          type: 'linear', min: p.xr[0], max: p.xr[1],
          afterBuildTicks: s => { s.ticks = p.xt.map(v => ({ value: v })); },
          afterFit: s => { s.height = p.B; s.paddingLeft = 0; s.paddingRight = 0; },
          ticks: { display: p.xlab, autoSkip: false, maxRotation: 0, padding: 2, color: '#000',
            font: { family: FONT, size: 14, lineHeight: 1 }, callback: v => String(v) },
          grid: { display: true, drawOnChartArea: false, drawTicks: true, tickLength: 4, color: SPINE, lineWidth: 1 },
          border: { display: false },
          title: { display: p.xlab, text: XLABEL, color: '#000', font: { family: FONT, size: 15 }, padding: { top: 0, bottom: p.xtPad } }
        },
        y: {
          type: 'linear', min: p.yr[0], max: p.yr[1],
          afterBuildTicks: s => { s.ticks = p.yt.map(v => ({ value: v })); },
          afterFit: s => { s.width = p.L; s.paddingTop = 0; s.paddingBottom = 0; },
          ticks: { autoSkip: false, padding: 2, color: '#000', font: { family: FONT, size: 14, lineHeight: 1 },
            callback: v => p.yl[p.yt.indexOf(v)] },
          grid: { display: true, drawOnChartArea: false, drawTicks: true, tickLength: 4, color: SPINE, lineWidth: 1 },
          border: { display: false },
          title: { display: !!p.ylabel, text: p.ylabel || '', color: '#000', font: { family: FONT, size: p.ylSize || 15 }, padding: { top: p.ytPad || 0, bottom: 0 } }
        }
      }
    },
    plugins: [framePlugin, cornerPlugin, legendPlugin]
  });
}

// ---------- layout of the 18 panels ----------
const sfRanges = [[-0.0079, 0.165], [-0.048, 1.013], [-0.011, 0.235], [-0.0022, 0.0466], [-0.0007, 0.0138], [-0.00013, 0.00277], [-0.00011, 0.00234], [-0.000015, 0.000312], [-0.00001, 0.000215]];
const qRanges = [[-0.0147, 0.3077], [-0.087, 1.83], [-0.032, 0.676], [-0.0196, 0.412], [-0.0128, 0.268], [-0.0029, 0.061], [-0.0014, 0.0296], [-0.00075, 0.0158], [-0.001, 0.0217]];

const halves = [
  { series: sfSeries, ranges: sfRanges, yt: yTicksSF, yl: yLabelsSF, tops: lineTopSF,
    title: 'Feature attribution for WISE 12.1 \u03BCm (starforming)',
    topBox: [72, 28, 614, 175], topL: 72, titlePad: 6, topYtPad: 21, topB: 40, topXtPad: 3, legend: 'right',
    xrTop: [2384, 9485], xrSmall: [2350, 9500],
    cols: [[72, 319], [369, 613]], rows: [[224, 306], [311, 393], [398, 479], [485, 567]],
    Ls: [72, 50], ytPads: [28, 23, 13, 5], bottomB: 40, topColor: '#2b2b2b' },
  { series: qSeries, ranges: qRanges, yt: yTicksQ, yl: yLabelsQ, tops: lineTopQ,
    title: 'Feature attribution for WISE 12.1 \u03BCm (quiescent)',
    topBox: [688, 23, 1234, 171], topL: 66, titlePad: 1.2, topYtPad: 20, topB: 44, topXtPad: 6, legend: 'left',
    xrTop: [2610, 9330], xrSmall: [2615, 9345],
    cols: [[689, 938], [989, 1234]], rows: [[221, 303], [307, 390], [394, 477], [482, 565]],
    Ls: [67, 51], ytPads: [34, 22, 10, 16], bottomB: 42, topColor: '#222222' }
];

halves.forEach(hf => {
  makePanel({
    box: hf.topBox, L: hf.topL, R: 8, T: hf.topBox[1], B: hf.topB,
    xr: hf.xrTop, yr: hf.ranges[0], xt: xTicksTop, yt: hf.yt[0], yl: hf.yl[0],
    spec: hf.series[0], specColor: hf.topColor, specWidth: 1.1,
    lineTop: hf.tops[0], vlw: 1.3, dash: [3.5, 1.6],
    title: hf.title, titlePad: hf.titlePad, ylabel: YLABEL_TOP, ylSize: 15.5, ytPad: hf.topYtPad,
    xlab: true, xtPad: hf.topXtPad, legend: hf.legend
  });
  for (let k = 0; k < 8; k++) {
    const r = Math.floor(k / 2), cIdx = k % 2;
    const bottom = r === 3;
    const col = hf.cols[cIdx], row = hf.rows[r];
    makePanel({
      box: [col[0], row[0], col[1], row[1]], L: hf.Ls[cIdx], R: 8, T: 12, B: bottom ? hf.bottomB : 8,
      xr: hf.xrSmall, yr: hf.ranges[k + 1], xt: xTicksSmall, yt: hf.yt[k + 1], yl: hf.yl[k + 1],
      spec: hf.series[k + 1], specColor: 'rgba(0,0,0,0.62)', specWidth: 0.9,
      lineTop: hf.tops[k + 1], vlw: 1.1, dash: [3, 2],
      ylabel: cIdx === 0 ? YLABEL : null, ytPad: hf.ytPads[r],
      xlab: bottom, xtPad: 1, window: windows[k]
    });
  }
});
</script></body></html>
